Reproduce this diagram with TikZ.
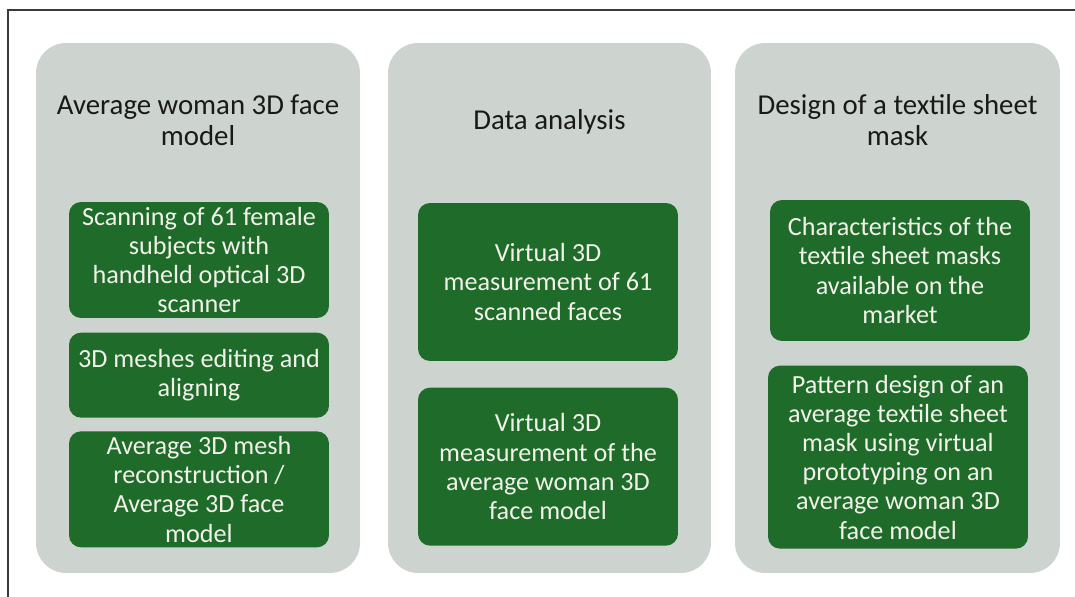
\documentclass[tikz,border=0pt]{standalone}
\usepackage{fontspec}
\setmainfont{Carlito}
\usepackage{tikz}
\usetikzlibrary{positioning}
\definecolor{panelgray}{HTML}{CDD3CE}
\definecolor{stepgreen}{HTML}{1E6B2A}
\definecolor{steptext}{HTML}{F2F2EA}
\definecolor{framegray}{HTML}{3A3A3A}

\begin{document}
\begin{tikzpicture}[x=0.02cm, y=-0.02cm,
  panel/.style={fill=panelgray, rounded corners=0.6cm, minimum height=10.6cm},
  heading/.style={align=center, text=black!90, font=\fontsize{16.4}{17.8}\selectfont},
  stepbox/.style={fill=stepgreen, text=steptext, rounded corners=0.24cm, align=center,
    minimum width=5.2cm, inner sep=2pt, font=\fontsize{14.9}{16.6}\selectfont}]
  \useasboundingbox (0,0) rectangle (1075,597);
  \draw[framegray, line width=0.8pt] (8,597) -- (8,10) -- (1075,10);
  % three columns
  \node[panel, minimum width=6.48cm] (col1) at (198,308) {};
  \node[panel, minimum width=6.46cm] (col2) at (549.5,308) {};
  \node[panel, minimum width=6.5cm] (col3) at (897.5,308) {};
  \node[heading] (title1) at (198,120) {Average woman 3D face\\model};
  \node[heading] (title2) at (549.5,122) {Data analysis};
  \node[heading] (title3) at (897.5,120) {Design of a textile sheet\\mask};
  % model steps
  \node[stepbox, minimum height=2.32cm] (scan) at (199,260) {Scanning of 61 female\\subjects with\\handheld optical 3D\\scanner};
  \node[stepbox, minimum height=1.7cm, below=0.28cm of scan] (edit) {3D meshes editing and\\aligning};
  \node[stepbox, minimum height=2.32cm, below=0.26cm of edit] (avg) {Average 3D mesh\\reconstruction /\\Average 3D face\\model};
  % analysis steps
  \node[stepbox, minimum height=3.16cm] (meas) at (548,282) {Virtual 3D\\measurement of 61\\scanned faces};
  \node[stepbox, minimum height=3.16cm, below=0.52cm of meas] (measavg) {Virtual 3D\\measurement of the\\average woman 3D\\face model};
  % mask steps
  \node[stepbox, minimum height=2.82cm] (market) at (900,270.5) {Characteristics of the\\textile sheet masks\\available on the\\market};
  \node[stepbox, minimum height=3.66cm, below=0.48cm of market, xshift=-0.04cm] (pattern) {Pattern design of an\\average textile sheet\\mask using virtual\\prototyping on an\\average woman 3D\\face model};
\end{tikzpicture}
\end{document}
